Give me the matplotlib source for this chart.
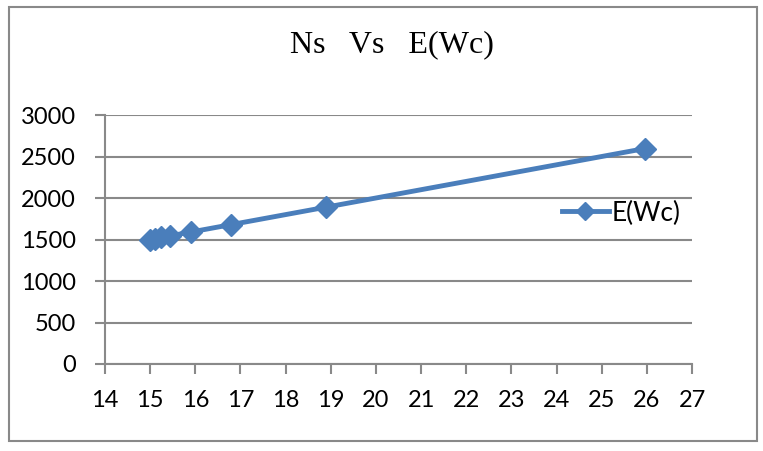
import matplotlib.pyplot as plt
from matplotlib.patches import Rectangle

# data
ns = [15.0, 15.1, 15.25, 15.45, 15.9, 16.8, 18.9, 25.95]
e_wc = [1500, 1510, 1525, 1545, 1590, 1680, 1890, 2595]
x_ticks = list(range(14, 28))
y_ticks = [0, 500, 1000, 1500, 2000, 2500, 3000]

W, H = 763, 451
fig = plt.figure(figsize=(W / 100, H / 100), dpi=100)
ax = fig.add_axes([105 / W, 1 - 364 / H, (692 - 105) / W, (364 - 115) / H])

grey = '#898989'
blue = '#4a7ebb'

ax.plot(ns, e_wc, color=blue, lw=3.5, marker='D', ms=11, mfc=blue, mec=blue, label='E(Wc)')

ax.set_xlim(14, 27)
ax.set_ylim(0, 3000)
ax.set_xticks(x_ticks)
ax.set_yticks(y_ticks)
ax.grid(axis='y', color=grey, lw=1.5)
ax.set_axisbelow(True)
for s in ['top', 'right']:
    ax.spines[s].set_visible(False)
for s in ['left', 'bottom']:
    ax.spines[s].set_color(grey)
    ax.spines[s].set_linewidth(1.5)
ax.tick_params(colors=grey, width=1.5, length=7, labelcolor='black', labelsize=17)
ax.tick_params(axis='y', pad=14)
ax.tick_params(axis='x', pad=12)
for lb in ax.get_xticklabels() + ax.get_yticklabels():
    lb.set_fontfamily('Lato')

fig.text(392 / W, 1 - 45 / H, 'Ns   Vs   E(Wc)', ha='center', va='center',
         fontsize=23, family='Liberation Serif')

ax.legend(loc='center left', bbox_to_anchor=(0.778, 0.606), frameon=False,
          prop={'family': 'Lato', 'size': 19}, handlelength=1.8,
          handletextpad=0.1, markerscale=0.8, borderpad=0, borderaxespad=0)

fig.patches.append(Rectangle((9 / W, 1 - 441 / H), (757 - 9) / W, (441 - 7) / H,
                             transform=fig.transFigure, fill=False,
                             edgecolor=grey, lw=1.5))

fig.savefig('out.png', dpi=100)
